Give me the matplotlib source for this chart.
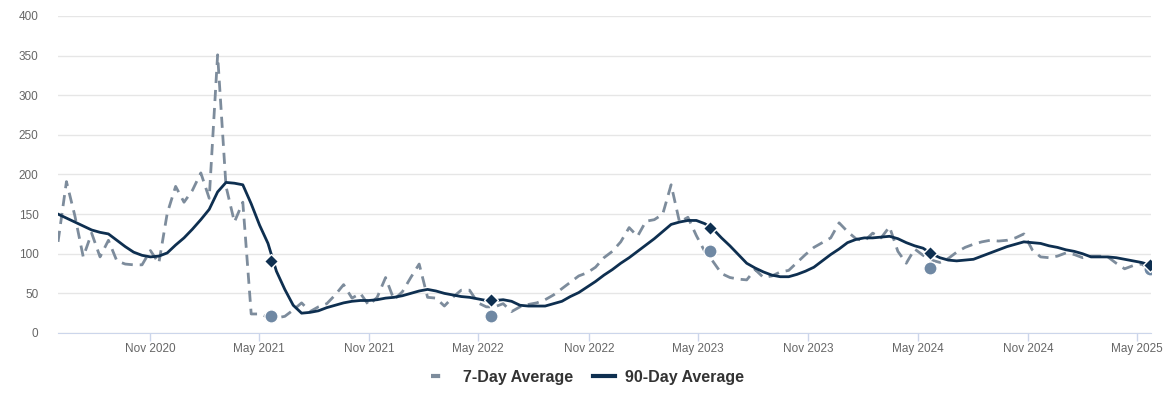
import matplotlib

matplotlib.use('Agg')

import matplotlib.pyplot as plt
import matplotlib.dates as mdates
from matplotlib.lines import Line2D
import pandas as pd

plt.rcParams['font.family'] = ['Liberation Sans', 'DejaVu Sans']

# Daten: gleichmäßig verteilte Stützpunkte zwischen Start- und Enddatum
start_date, end_date = '2020-06-01', '2025-05-22'

avg_7day = [
	115, 191, 148, 96, 126, 96, 117, 91, 87, 86,
	86, 104, 88, 151, 185, 165, 180, 202, 170, 351,
	185, 140, 165, 24, 24, 20, 19, 21, 29, 38,
	27, 33, 37, 48, 61, 44, 50, 35, 45, 70,
	42, 52, 70, 87, 45, 44, 34, 45, 54, 54,
	38, 33, 33, 37, 27, 33, 36, 38, 42, 48,
	56, 64, 72, 76, 83, 95, 103, 115, 133, 122,
	141, 143, 150, 187, 140, 146, 123, 103, 90, 75,
	70, 68, 67, 80, 70, 72, 77, 79, 89, 99,
	108, 114, 120, 139, 128, 119, 116, 126, 120, 134,
	103, 88, 106, 98, 92, 89, 94, 102, 108, 112,
	115, 117, 116, 117, 120, 125, 105, 96, 95, 97,
	101, 99, 95, 97, 97, 96, 88, 81, 85, 87,
	81,
]

avg_90day = [
	150, 145, 140, 135, 130, 127, 125, 117, 109, 102,
	98, 96, 97, 101, 111, 120, 131, 143, 156, 178,
	190, 189, 187, 163, 136, 113, 78, 55, 35, 25,
	26, 28, 32, 35, 38, 40, 41, 41, 42, 44,
	45, 47, 50, 53, 55, 53, 50, 48, 46, 45,
	43, 41, 41, 42, 40, 35, 34, 34, 34, 37,
	40, 46, 51, 58, 65, 73, 80, 88, 95, 103,
	111, 119, 128, 137, 140, 142, 142, 138, 131, 120,
	110, 99, 88, 82, 77, 73, 71, 71, 74, 78,
	83, 91, 99, 106, 114, 118, 120, 120, 121, 122,
	119, 114, 110, 107, 100, 95, 92, 91, 92, 93,
	97, 101, 105, 109, 112, 115, 114, 113, 110, 108,
	105, 103, 100, 96, 96, 96, 95, 93, 91, 89,
	86,
]

# Jahresvergleich am gleichen Stichtag
marker_dates = ['2021-05-22', '2022-05-22', '2023-05-22', '2024-05-22', '2025-05-22']
marker_7day = [21, 22, 104, 82, 81]
marker_90day = [91, 41, 133, 101, 86]

dates = pd.date_range(start_date, end_date, periods=len(avg_7day))
m_dates = pd.to_datetime(marker_dates)

c7 = '#7d8c9c'
c7_dot = '#6f88a3'
c90 = '#0e2f50'
grid_c = '#e6e6e6'
axis_c = '#ccd6eb'
label_c = '#666666'

fig = plt.figure(figsize=(11.75, 3.93), dpi=100)
ax = fig.add_axes([0.0494, 0.1527, 0.9302, 0.8066])

ax.plot(dates, avg_7day, color=c7, lw=2.0, dashes=(4, 2.5), zorder=2)
ax.plot(dates, avg_90day, color=c90, lw=2.0, zorder=3)
ax.plot(m_dates, marker_7day, 'o', color=c7_dot, ms=9.5, mec='white', mew=1, zorder=4)
ax.plot(m_dates, marker_90day, 'D', color=c90, ms=7.5, mec='white', mew=1, zorder=5)

ax.set_ylim(0, 400)
ax.set_yticks(range(0, 401, 50))
ax.set_xlim(dates[0], dates[-1] + pd.Timedelta(days=2))

ax.xaxis.set_major_locator(mdates.MonthLocator(bymonth=[5, 11]))
ax.xaxis.set_major_formatter(mdates.DateFormatter('%b %Y'))

ax.grid(axis='y', color=grid_c, lw=1)
ax.set_axisbelow(True)
for side in ['top', 'right', 'left']:
	ax.spines[side].set_visible(False)
ax.spines['bottom'].set_color(axis_c)
ax.tick_params(axis='x', colors=axis_c, length=6, width=1, labelcolor=label_c, labelsize=8.5, pad=1)
ax.tick_params(axis='y', length=0, labelcolor=label_c, labelsize=8.5, pad=14)

handles = [
	Line2D([], [], color=c7, lw=3, dashes=(2.2, 10)),
	Line2D([], [], color=c90, lw=3),
]
fig.legend(handles, ['7-Day Average', '90-Day Average'], loc='center', bbox_to_anchor=(0.5, 0.04),
	ncol=2, frameon=False, handlelength=1.4, columnspacing=1.2, handletextpad=0.6,
	prop={'weight': 'bold', 'size': 11.5}, labelcolor='#333333')

fig.savefig('out.png', dpi=100)
plt.close(fig)
